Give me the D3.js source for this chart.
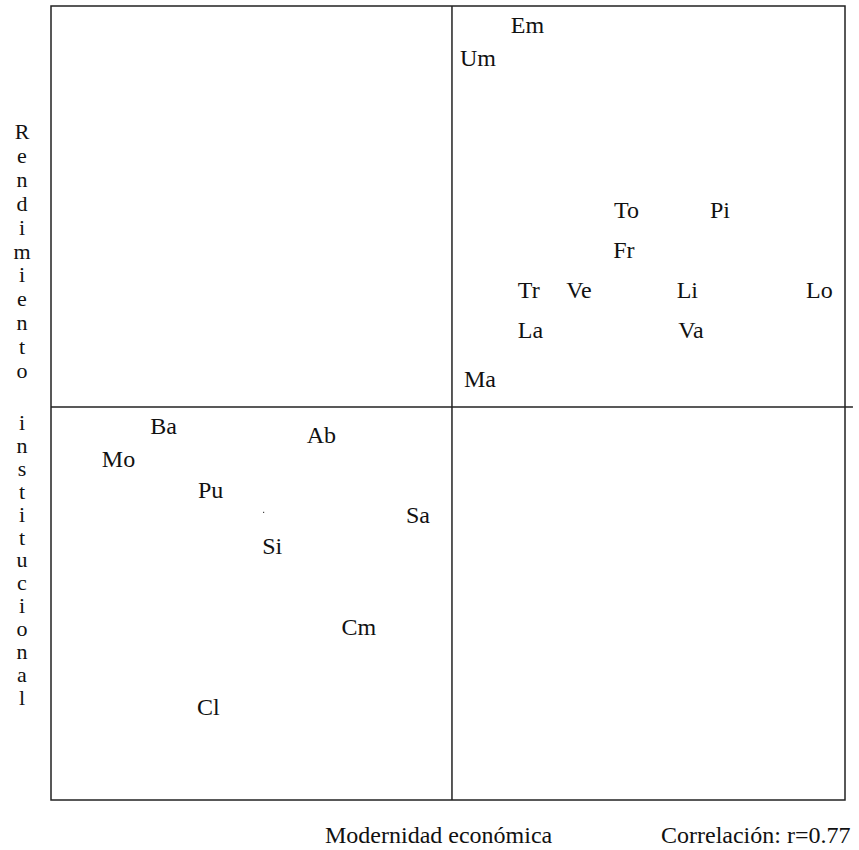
<!DOCTYPE html>
<html>
<head>
<meta charset="utf-8">
<script src="https://cdn.jsdelivr.net/npm/d3@7"></script>
<style>
  body { margin: 0; background: #fff; }
</style>
</head>
<body>
<script>
// regions (abbreviations) and their position: economic modernity (x) and
// institutional performance (y), both on a 0..100 scale
const regions = ['Em', 'Um', 'To', 'Pi', 'Fr', 'Tr', 'Ve', 'Li', 'Lo', 'La', 'Va', 'Ma',
                 'Ba', 'Ab', 'Mo', 'Pu', 'Sa', 'Si', 'Cm', 'Cl']
const modernidad = [57.9, 51.5, 70.9, 83.0, 70.8, 58.8, 64.9, 78.8, 95.1, 58.8, 79.0, 52.0,
                    12.5, 32.2, 6.4, 18.5, 44.7, 26.6, 36.6, 18.4]
const rendimiento = [96.6, 92.4, 73.3, 73.3, 68.3, 63.2, 63.2, 63.2, 63.2, 58.2, 58.2, 52.0,
                     46.1, 45.0, 41.9, 38.0, 34.9, 31.0, 20.8, 10.7]

// quadrant split lines
const xMid = 50.5
const yMid = 49.5

const xLabel = 'Modernidad económica'
const yLabel = 'Rendimiento institucional'
const corrLabel = 'Correlación: r=0.77'

const width = 859
const height = 850
const font = '"Liberation Serif", "DejaVu Serif", "Times New Roman", serif'

const x = d3.scaleLinear().domain([0, 100]).range([51, 845])
const y = d3.scaleLinear().domain([0, 100]).range([800, 6])

const svg = d3.select('body').append('svg').attr('width', width).attr('height', height)

// frame
svg.append('rect')
   .attr('x', x(0)).attr('y', y(100))
   .attr('width', x(100) - x(0)).attr('height', y(0) - y(100))
   .attr('fill', 'none').attr('stroke', '#222').attr('stroke-width', 1.5)

// quadrant lines
svg.append('line')
   .attr('x1', x(xMid)).attr('x2', x(xMid))
   .attr('y1', y(100)).attr('y2', y(0))
   .attr('stroke', '#222').attr('stroke-width', 1.5)

svg.append('line')
   .attr('x1', x(0)).attr('x2', x(101))
   .attr('y1', y(yMid)).attr('y2', y(yMid))
   .attr('stroke', '#222').attr('stroke-width', 1.5)

// stray dot
svg.append('rect')
   .attr('x', x(26.7)).attr('y', y(36.3))
   .attr('width', 1.2).attr('height', 1.2).attr('fill', '#444')

// region labels
const pts = d3.range(regions.length).map(i => ({name: regions[i], mx: modernidad[i], ry: rendimiento[i]}))

svg.selectAll('.reg')
   .data(pts)
   .enter()
   .append('text')
   .attr('class', 'reg')
   .attr('x', d => x(d.mx))
   .attr('y', d => y(d.ry))
   .attr('font-family', font)
   .attr('font-size', 24)
   .attr('fill', '#111')
   .text(d => d.name)

// axis titles
svg.append('text')
   .attr('x', 325).attr('y', 843)
   .attr('font-family', font)
   .attr('font-size', 24)
   .attr('fill', '#111')
   .text(xLabel)

svg.append('text')
   .attr('x', 661).attr('y', 843)
   .attr('font-family', font)
   .attr('font-size', 24)
   .attr('fill', '#111')
   .text(corrLabel)

// vertical, stacked letters: one text per letter
const words = yLabel.split(' ')
const letters = words[0].split('').map((c, i) => ({c, y: 139 + i * 23.9}))
  .concat(words[1].split('').map((c, i) => ({c, y: 430 + i * 22.9})))

svg.selectAll('.ylab')
   .data(letters)
   .enter()
   .append('text')
   .attr('class', 'ylab')
   .attr('x', 22)
   .attr('y', d => d.y)
   .attr('text-anchor', 'middle')
   .attr('font-family', font)
   .attr('font-size', 22)
   .attr('fill', '#111')
   .text(d => d.c)
</script>
</body>
</html>
